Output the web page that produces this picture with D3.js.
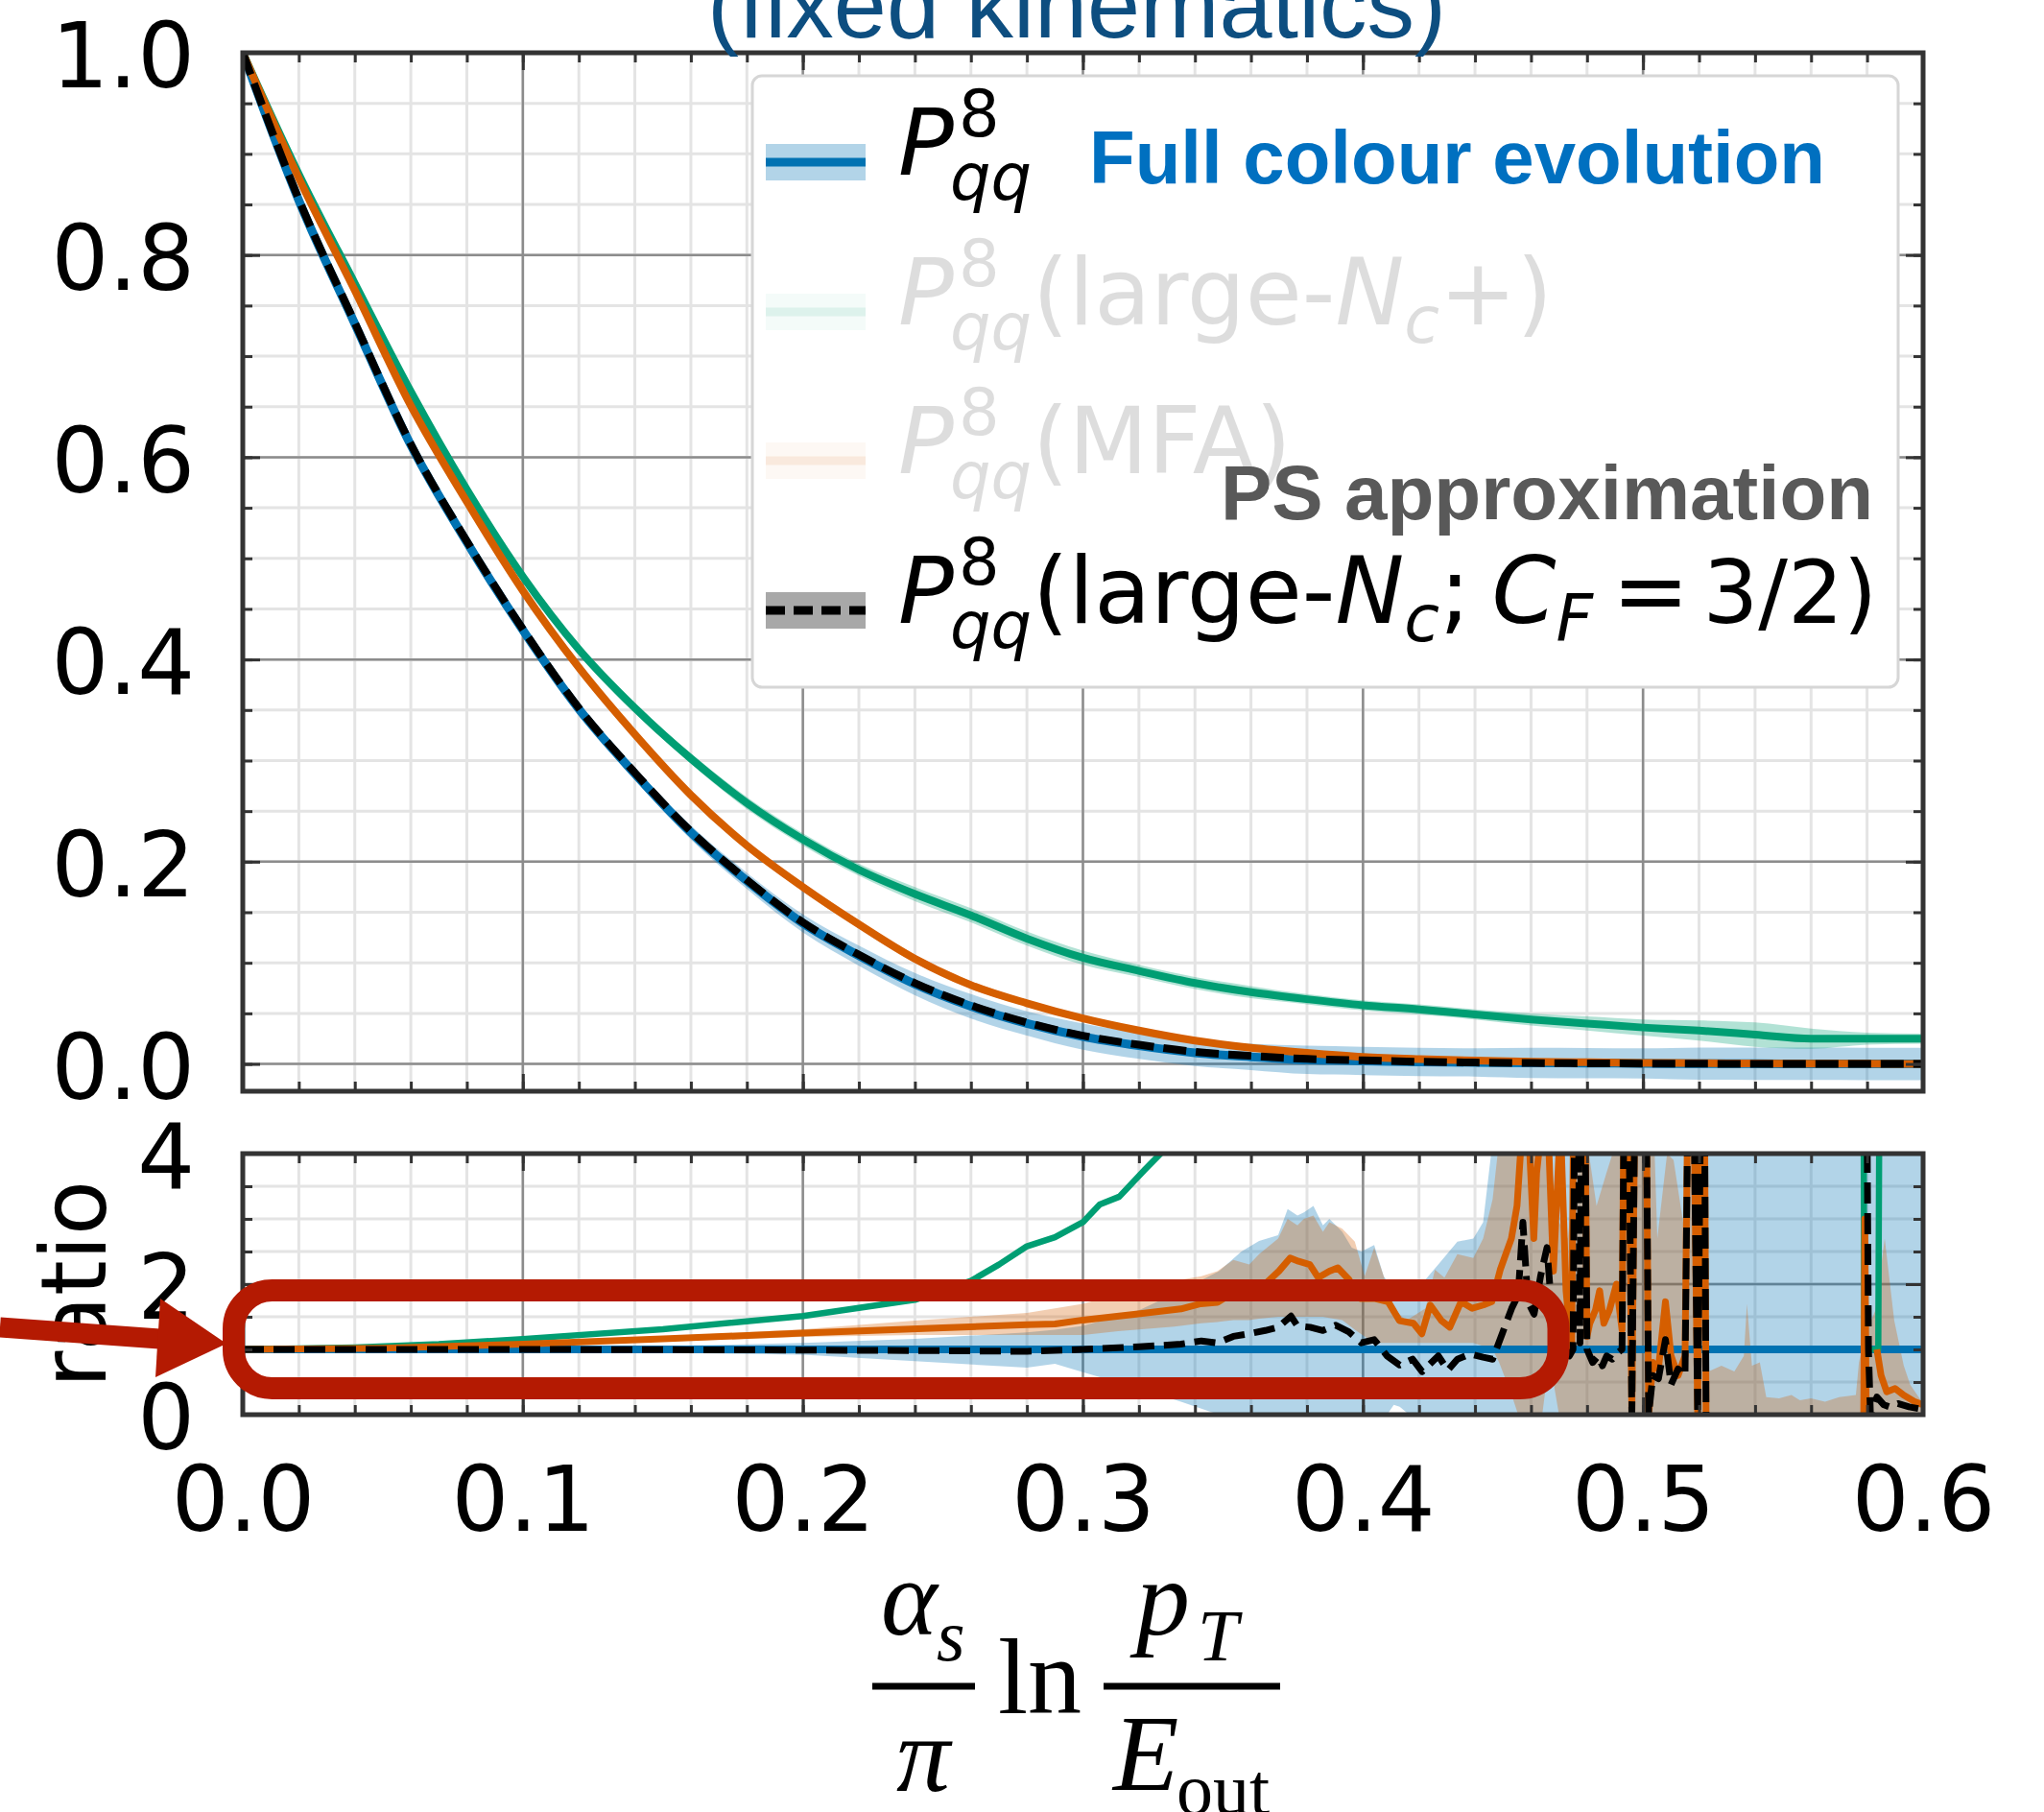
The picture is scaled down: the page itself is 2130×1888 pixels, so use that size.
<!DOCTYPE html>
<html>
<head>
<meta charset="utf-8">
<script src="https://cdn.jsdelivr.net/npm/d3@7"></script>
<style>
  body { margin: 0; background: #fff; }
  svg { display: block; }
</style>
</head>
<body>
<script>
// x grid of the main panel (alpha_s/pi ln pT/Eout)
const xGrid = [0.00, 0.02, 0.04, 0.06, 0.08, 0.10, 0.12, 0.14, 0.16, 0.18, 0.20, 0.22, 0.24, 0.26, 0.28, 0.30,
  0.32, 0.34, 0.36, 0.38, 0.40, 0.42, 0.44, 0.46, 0.48, 0.50, 0.52, 0.54, 0.56, 0.58, 0.60];

// main panel series
const fullColour = [1.000, 0.854, 0.732, 0.612, 0.516, 0.429, 0.351, 0.287, 0.229, 0.181, 0.139, 0.107, 0.079, 0.057, 0.040, 0.027,
  0.018, 0.011, 0.007, 0.004, 0.003, 0.002, 0.0015, 0.001, 0.0008, 0.0005, 0.0003, 0.0002, 0.0001, 0.0000, 0.0000];
const fullColourErr = [0, 0.001, 0.002, 0.003, 0.003, 0.004, 0.005, 0.006, 0.007, 0.008, 0.009, 0.010, 0.011, 0.012, 0.012, 0.013,
  0.013, 0.013, 0.013, 0.014, 0.014, 0.014, 0.014, 0.015, 0.015, 0.015, 0.016, 0.016, 0.016, 0.016, 0.016];
const largeNcPlus = [1.000, 0.880, 0.772, 0.665, 0.568, 0.482, 0.410, 0.352, 0.302, 0.258, 0.222, 0.192, 0.168, 0.147, 0.124, 0.105,
  0.092, 0.080, 0.071, 0.064, 0.058, 0.054, 0.049, 0.044, 0.040, 0.036, 0.033, 0.029, 0.025, 0.025, 0.025];
const largeNcPlusErr = [0, 0.001, 0.002, 0.002, 0.003, 0.003, 0.004, 0.004, 0.005, 0.006, 0.006, 0.006, 0.007, 0.007, 0.007, 0.007,
  0.006, 0.006, 0.006, 0.005, 0.005, 0.005, 0.005, 0.006, 0.007, 0.008, 0.010, 0.012, 0.010, 0.006, 0.005];
const mfa = [1.000, 0.876, 0.765, 0.651, 0.556, 0.468, 0.392, 0.326, 0.266, 0.216, 0.175, 0.138, 0.104, 0.078, 0.060, 0.045,
  0.033, 0.023, 0.016, 0.011, 0.007, 0.0048, 0.0033, 0.0023, 0.0016, 0.0011, 0.0007, 0.0005, 0.0003, 0.0002, 0.0001];
const mfaErr = [0, 0.001, 0.001, 0.002, 0.002, 0.002, 0.003, 0.003, 0.003, 0.004, 0.004, 0.004, 0.004, 0.004, 0.003, 0.003,
  0.003, 0.002, 0.002, 0.002, 0.002, 0.001, 0.001, 0.001, 0.001, 0.001, 0.001, 0.001, 0.001, 0.001, 0.001];
const largeNcCF = [1.000, 0.855, 0.733, 0.613, 0.517, 0.430, 0.352, 0.288, 0.230, 0.182, 0.140, 0.108, 0.080, 0.058, 0.041, 0.028,
  0.019, 0.012, 0.008, 0.005, 0.0035, 0.0022, 0.0014, 0.0009, 0.0006, 0.0004, 0.0002, 0.0001, 0.0001, 0.0000, 0.0000];

// ratio panel: [x, ratio]  (null = no value)
const ratioFull = [[0, 1], [0.6, 1]];
const ratioLargeNcPlus = [[0, 1.0], [0.04, 1.03], [0.07, 1.08], [0.10, 1.16], [0.15, 1.31], [0.20, 1.51], [0.24, 1.76],
  [0.26, 2.05], [0.27, 2.30], [0.28, 2.58], [0.29, 2.72], [0.30, 2.95], [0.306, 3.22], [0.313, 3.34], [0.322, 3.75],
  [0.33, 4.1], [0.34, 4.6], [0.5785, 9], [0.5790, 1.0], [0.5840, 1.0], [0.5848, 9], [0.60, 9]];
const ratioMfa = [[0, 1.0], [0.05, 1.02], [0.10, 1.08], [0.15, 1.16], [0.20, 1.25], [0.25, 1.33], [0.28, 1.38], [0.29, 1.39],
  [0.30, 1.45], [0.319, 1.54], [0.335, 1.62], [0.342, 1.70], [0.348, 1.72], [0.354, 1.88], [0.360, 1.93], [0.365, 2.0],
  [0.370, 2.2], [0.374, 2.4], [0.377, 2.35], [0.381, 2.3], [0.384, 2.1], [0.388, 2.2], [0.391, 2.25], [0.395, 2.07],
  [0.399, 1.78], [0.404, 1.78], [0.409, 1.73], [0.413, 1.44], [0.418, 1.40], [0.421, 1.24], [0.424, 1.68], [0.428, 1.44],
  [0.431, 1.34], [0.435, 1.73], [0.439, 1.63], [0.443, 1.68], [0.446, 1.73], [0.449, 2.22], [0.453, 2.7], [0.455, 3.2],
  [0.457, 4.5], [0.459, 4.5], [0.461, 2.7], [0.462, 3.7], [0.464, 4.5], [0.466, 4.5], [0.468, 2.2], [0.4705, 4.5],
  [0.4725, 1.9], [0.4745, 1.0], [0.4760, 9], [0.4785, 9], [0.4800, 1.2], [0.4810, 1.4], [0.4830, 1.6], [0.4845, 1.9],
  [0.4860, 1.4], [0.4880, 1.6], [0.4905, 2.0], [0.4925, 1.3], [0.4940, 9], [0.4960, 0], [0.4980, 9], [0.5005, 9],
  [0.5020, 0], [0.5035, 0.8], [0.5055, 0.7], [0.5080, 1.73], [0.5100, 0.9], [0.5125, 0.6], [0.5150, 0.9], [0.5170, 9],
  [0.5195, 0], [0.5215, 9], [0.5225, 0], [0.5230, null], [0.5788, 0], [0.5792, 3.0], [0.5797, 0], [0.5800, null],
  [0.5835, 1.0], [0.5850, 0.6], [0.5870, 0.35], [0.5900, 0.4], [0.5930, 0.3], [0.5970, 0.2], [0.6000, 0.15]];
const ratioLargeNcCF = [[0, 1.0], [0.10, 1.0], [0.20, 0.99], [0.25, 0.98], [0.28, 0.97], [0.30, 1.0], [0.32, 1.04],
  [0.335, 1.08], [0.3423, 1.13], [0.348, 1.10], [0.3537, 1.20], [0.3594, 1.24], [0.3651, 1.29], [0.3697, 1.34],
  [0.3743, 1.51], [0.3766, 1.36], [0.3811, 1.34], [0.3857, 1.29], [0.3903, 1.37], [0.3949, 1.27], [0.3994, 1.10],
  [0.404, 1.15], [0.4086, 0.90], [0.4131, 0.76], [0.4177, 0.85], [0.4211, 0.66], [0.4269, 0.90], [0.4303, 0.68],
  [0.4337, 0.85], [0.4383, 0.93], [0.4429, 0.88], [0.4463, 0.85], [0.4497, 1.24], [0.4531, 1.63], [0.4554, 1.83],
  [0.4571, 2.95], [0.4589, 1.73], [0.4611, 1.54], [0.4634, 2.12], [0.4657, 2.56], [0.468, 1.24], [0.4737, 0.9],
  [0.4750, 1.0], [0.4762, 9], [0.4775, 1.1], [0.4785, 9], [0.4800, 1.0], [0.4820, 0.8], [0.4840, 0.9], [0.4855, 0.75],
  [0.4870, 0.9], [0.4890, 0.85], [0.4910, 0.95], [0.4925, 1.0], [0.4940, 9], [0.4960, 0], [0.4980, 9], [0.5005, 9],
  [0.5020, 0], [0.5035, 0.6], [0.5055, 0.55], [0.5080, 1.15], [0.5100, 0.46], [0.5125, 0.7], [0.5150, 0.6], [0.5170, 9],
  [0.5195, 0], [0.5215, 9], [0.5225, 0], [0.5230, null], [0.5800, 4.5], [0.5805, 1.0], [0.5812, 0], [0.5835, 0.27],
  [0.5860, 0.15], [0.5880, 0.12], [0.5910, 0.17], [0.5950, 0.12], [0.6000, 0.08]];

// ratio bands: [x, low, high]
const bandFull = [[0, 1, 1], [0.10, 0.98, 1.02], [0.15, 0.95, 1.05], [0.20, 0.92, 1.10], [0.24, 0.82, 1.16], [0.28, 0.72, 1.26],
  [0.29, 0.78, 1.30], [0.30, 0.65, 1.36], [0.32, 0.40, 1.60], [0.335, 0.20, 1.90], [0.3486, 0, 2.2], [0.3566, 0, 2.5],
  [0.3629, 0, 2.66], [0.3697, 0, 2.75], [0.3731, 0, 3.15], [0.3766, 0, 3.05], [0.3789, 0, 3.1], [0.3823, 0, 3.2],
  [0.3857, 0, 2.9], [0.388, 0, 3.0], [0.3926, 0, 2.8], [0.396, 0, 2.56], [0.3994, 0, 2.5], [0.404, 0, 2.6],
  [0.4074, 0, 2.12], [0.4086, 0, 2.05], [0.411, 0.15, 2.0], [0.4131, 0.12, 1.98], [0.4165, 0, 2.0], [0.4223, 0, 2.07],
  [0.4269, 0, 2.3], [0.4337, 0, 2.65], [0.4394, 0, 2.7], [0.4429, 0, 2.95], [0.4463, 0, 4.2], [0.6, 0, 4.2]];
const bandMfa = [[0, 1, 1], [0.10, 1.06, 1.10], [0.15, 1.12, 1.20], [0.20, 1.19, 1.31], [0.24, 1.22, 1.44], [0.28, 1.22, 1.56],
  [0.30, 1.22, 1.70], [0.3126, 1.28, 1.85], [0.3326, 1.35, 2.05], [0.3423, 1.40, 2.12], [0.348, 1.42, 2.2],
  [0.3537, 1.45, 2.37], [0.3594, 1.45, 2.3], [0.3629, 1.47, 2.46], [0.3697, 1.5, 2.7], [0.3731, 1.5, 3.0],
  [0.3766, 1.5, 2.9], [0.3789, 1.5, 3.0], [0.3823, 1.5, 3.05], [0.3857, 1.5, 2.8], [0.388, 1.48, 2.95],
  [0.3926, 1.45, 2.85], [0.3971, 1.3, 2.65], [0.4006, 1.2, 2.12], [0.404, 1.1, 2.56], [0.4074, 1.1, 2.12],
  [0.4109, 1.1, 1.63], [0.4154, 1.1, 1.44], [0.4223, 1.1, 1.63], [0.4257, 1.1, 2.22], [0.4291, 1.1, 2.1],
  [0.4337, 1.1, 2.46], [0.4394, 1.1, 2.4], [0.4429, 1.05, 2.7], [0.4463, 1.0, 3.3], [0.4486, 0.8, 4.2],
  [0.4531, 0.3, 4.2], [0.4554, 0, 4.2], [0.4640, 0, 4.2], [0.4655, 0.5, 4.2], [0.4680, 0.5, 3.0], [0.4700, 0, 2.95],
  [0.4731, 0, 2.7], [0.4770, 0, 4.2], [0.4800, 0, 4.2], [0.4834, 0, 3.2], [0.4869, 0, 3.7], [0.4891, 0, 4.0],
  [0.4910, 0, 4.2], [0.5040, 0, 4.2], [0.5051, 0, 2.7], [0.5086, 0, 4.0], [0.5109, 0, 3.9], [0.5143, 0, 2.95],
  [0.5160, 0, 4.2], [0.5225, 0, 4.2], [0.5234, 0, 0.66], [0.528, 0, 0.75], [0.5326, 0, 0.66], [0.5360, 0, 0.9],
  [0.5371, 0, 1.7], [0.5389, 0, 0.75], [0.5417, 0, 0.8], [0.544, 0, 0.27], [0.5486, 0, 0.25], [0.5530, 0, 0.3],
  [0.5560, 0, 0.22], [0.5600, 0, 0.25], [0.5650, 0, 0.2], [0.5700, 0, 0.27], [0.5760, 0, 0.3], [0.5771, 0, 0.8],
  [0.5794, 0, 1.24], [0.5830, 0, 1.6], [0.5863, 0, 2.7], [0.5897, 0, 1.44], [0.5931, 0, 0.75], [0.5954, 0, 0.46],
  [0.6, 0, 0.17]];

// ticks
const xTicks = [0.0, 0.1, 0.2, 0.3, 0.4, 0.5, 0.6];
const yTicksMain = [0.0, 0.2, 0.4, 0.6, 0.8, 1.0];
const yTicksRatio = [0, 2, 4];

const C_BLUE = '#0072b2', C_GREEN = '#009e73', C_ORANGE = '#d55e00';
const TICK_FONT = 94;
const LEG_FONT = 96, LEG_SMALL = 67;

const svg = d3.select('body').append('svg')
  .attr('width', 2130)
  .attr('height', 1888)
  .style('font-family', '"DejaVu Sans", sans-serif');

const x = d3.scaleLinear().domain([0, 0.6]).range([253, 2004]);
const yMain = d3.scaleLinear().domain([-0.027, 1.0]).range([1137, 55]);
const yRatio = d3.scaleLinear().domain([0, 4]).range([1474, 1202]);

const defs = svg.append('defs');
defs.append('clipPath').attr('id', 'clipMain')
  .append('rect').attr('x', 253).attr('y', 55).attr('width', 2004 - 253).attr('height', 1137 - 55);
defs.append('clipPath').attr('id', 'clipRatio')
  .append('rect').attr('x', 253).attr('y', 1202).attr('width', 2004 - 253).attr('height', 1474 - 1202);

// ============== GRID ==============
function drawGrid(y, yMinor, yMajor) {
  const g = svg.append('g');
  const xMinor = d3.range(0, 0.6001, 0.02);
  const [y0, y1] = y.range();
  g.selectAll('.vmin').data(xMinor).enter().append('line')
    .attr('x1', d => x(d)).attr('x2', d => x(d)).attr('y1', y0).attr('y2', y1)
    .attr('stroke', '#e4e4e4').attr('stroke-width', 3);
  g.selectAll('.hmin').data(yMinor).enter().append('line')
    .attr('x1', 253).attr('x2', 2004).attr('y1', d => y(d)).attr('y2', d => y(d))
    .attr('stroke', '#e4e4e4').attr('stroke-width', 3);
  g.selectAll('.vmaj').data(xTicks).enter().append('line')
    .attr('x1', d => x(d)).attr('x2', d => x(d)).attr('y1', y0).attr('y2', y1)
    .attr('stroke', '#8c8c8c').attr('stroke-width', 2.5);
  g.selectAll('.hmaj').data(yMajor).enter().append('line')
    .attr('x1', 253).attr('x2', 2004).attr('y1', d => y(d)).attr('y2', d => y(d))
    .attr('stroke', '#8c8c8c').attr('stroke-width', 2.5);
}
drawGrid(yMain, d3.range(0, 1.0001, 0.05), yTicksMain);
drawGrid(yRatio, d3.range(0, 4.001, 0.5), yTicksRatio);

// ============== MAIN PANEL ==============
const gMain = svg.append('g').attr('clip-path', 'url(#clipMain)');

function mainBand(vals, errs, color) {
  const area = d3.area()
    .x((d, i) => x(xGrid[i]))
    .y0((d, i) => yMain(vals[i] - errs[i]))
    .y1((d, i) => yMain(vals[i] + errs[i]))
    .curve(d3.curveMonotoneX);
  gMain.append('path').datum(vals).attr('d', area).attr('fill', color).attr('fill-opacity', 0.3);
}
function mainLine(vals, color, width, dash) {
  const line = d3.line().x((d, i) => x(xGrid[i])).y(d => yMain(d)).curve(d3.curveMonotoneX);
  gMain.append('path').datum(vals).attr('d', line)
    .attr('fill', 'none').attr('stroke', color).attr('stroke-width', width)
    .attr('stroke-dasharray', dash || null);
}
mainBand(fullColour, fullColourErr, C_BLUE);
mainBand(largeNcPlus, largeNcPlusErr, C_GREEN);
mainBand(mfa, mfaErr, C_ORANGE);
mainLine(fullColour, C_BLUE, 9);
mainLine(largeNcPlus, C_GREEN, 8);
mainLine(mfa, C_ORANGE, 8);
mainLine(largeNcCF, '#000', 8, '24,10');

// ============== RATIO PANEL ==============
const gRatio = svg.append('g').attr('clip-path', 'url(#clipRatio)');

function ratioBand(data, color) {
  const area = d3.area().x(d => x(d[0])).y0(d => yRatio(d[1])).y1(d => yRatio(d[2]));
  gRatio.append('path').datum(data).attr('d', area).attr('fill', color).attr('fill-opacity', 0.3);
}
function ratioLine(data, color, width, dash) {
  const line = d3.line().defined(d => d[1] !== null).x(d => x(d[0])).y(d => yRatio(d[1]));
  gRatio.append('path').datum(data).attr('d', line)
    .attr('fill', 'none').attr('stroke', color).attr('stroke-width', width)
    .attr('stroke-linejoin', 'round')
    .attr('stroke-dasharray', dash || null);
}
ratioBand(bandFull, C_BLUE);
ratioBand(bandMfa, C_ORANGE);
ratioLine(ratioFull, C_BLUE, 8);
ratioLine(ratioLargeNcPlus, C_GREEN, 6.5);
ratioLine(ratioMfa, C_ORANGE, 7);
ratioLine(ratioLargeNcCF, '#000', 7, '22,10');

// ============== FRAMES AND TICKS ==============
function styleAxis(g) {
  g.select('.domain').remove();
  g.selectAll('.tick line').attr('stroke', '#333').attr('stroke-width', 3);
  g.attr('font-family', '"DejaVu Sans", sans-serif').attr('font-size', TICK_FONT);
  g.selectAll('.tick text').attr('fill', '#000');
}
function drawFrame(y, yMinor, yMajor, labelsBottom) {
  const [yb, yt] = y.range();
  const xMinor = d3.range(0, 0.6001, 0.02);
  const axes = [
    [d3.axisBottom(x).tickValues(xMinor).tickSize(-10).tickFormat(''), `translate(0,${yb})`],
    [d3.axisTop(x).tickValues(xMinor).tickSize(-10).tickFormat(''), `translate(0,${yt})`],
    [d3.axisLeft(y).tickValues(yMinor).tickSize(-10).tickFormat(''), 'translate(253,0)'],
    [d3.axisRight(y).tickValues(yMinor).tickSize(-10).tickFormat(''), 'translate(2004,0)'],
    [d3.axisTop(x).tickValues(xTicks).tickSize(-18).tickFormat(''), `translate(0,${yt})`],
    [d3.axisRight(y).tickValues(yMajor).tickSize(-18).tickFormat(''), 'translate(2004,0)']
  ];
  axes.forEach(([ax, tr]) => svg.append('g').attr('transform', tr).call(ax).call(styleAxis));

  const fmt = yMajor.length > 3 ? d3.format('.1f') : d3.format('d');
  svg.append('g').attr('transform', 'translate(253,0)')
    .call(d3.axisLeft(y).tickValues(yMajor).tickSize(-18).tickPadding(50).tickFormat(fmt))
    .call(styleAxis)
    .call(g => g.selectAll('.tick text').attr('dy', '0.38em'));

  const bottom = d3.axisBottom(x).tickValues(xTicks).tickSize(-18);
  if (labelsBottom) bottom.tickPadding(54).tickFormat(d3.format('.1f'));
  else bottom.tickFormat('');
  svg.append('g').attr('transform', `translate(0,${yb})`).call(bottom).call(styleAxis);

  svg.append('rect')
    .attr('x', 253).attr('y', yt).attr('width', 2004 - 253).attr('height', yb - yt)
    .attr('fill', 'none').attr('stroke', '#333').attr('stroke-width', 5);
}
drawFrame(yMain, d3.range(0, 1.0001, 0.05), yTicksMain, false);
drawFrame(yRatio, d3.range(0, 4.001, 0.5), yTicksRatio, true);

// y label of ratio panel
svg.append('text')
  .attr('transform', 'translate(110,1338) rotate(-90)')
  .attr('text-anchor', 'middle')
  .attr('font-size', TICK_FONT)
  .text('ratio');

// ============== LEGEND ==============
const leg = svg.append('g');
leg.append('rect')
  .attr('x', 784).attr('y', 79).attr('width', 1194).attr('height', 637).attr('rx', 10)
  .attr('fill', '#fff').attr('stroke', '#d6d6d6').attr('stroke-width', 3);

const rowBase = [182, 338, 493, 649];

function handle(g, cy, color, bandColor, dash) {
  g.append('rect').attr('x', 798).attr('y', cy - 19).attr('width', 104).attr('height', 38)
    .attr('fill', bandColor).attr('fill-opacity', dash ? 1 : 0.3);
  g.append('line').attr('x1', 798).attr('x2', 902).attr('y1', cy).attr('y2', cy)
    .attr('stroke', color).attr('stroke-width', 9).attr('stroke-dasharray', dash || null);
}
function pqq(g, base) {
  g.append('text').attr('x', 936).attr('y', base).attr('font-size', LEG_FONT).attr('font-style', 'italic').text('P');
  g.append('text').attr('x', 999).attr('y', base - 40).attr('font-size', LEG_SMALL).text('8');
  g.append('text').attr('x', 990).attr('y', base + 26).attr('font-size', LEG_SMALL).attr('font-style', 'italic').text('qq');
}

// row 1
const r1 = leg.append('g');
handle(r1, rowBase[0] - 13, C_BLUE, C_BLUE);
pqq(r1, rowBase[0]);

// rows 2 and 3, faded
const r2 = leg.append('g').attr('opacity', 0.13);
handle(r2, rowBase[1] - 13, C_GREEN, C_GREEN);
pqq(r2, rowBase[1]);
const t2 = r2.append('text').attr('x', 1076).attr('y', rowBase[1]).attr('font-size', LEG_FONT);
t2.append('tspan').text('(large-');
t2.append('tspan').attr('font-style', 'italic').text('N');
t2.append('tspan').attr('font-style', 'italic').attr('font-size', LEG_SMALL).attr('dy', 19).text('c');
t2.append('tspan').attr('dy', -19).text('+)');

const r3 = leg.append('g').attr('opacity', 0.13);
handle(r3, rowBase[2] - 13, C_ORANGE, C_ORANGE);
pqq(r3, rowBase[2]);
r3.append('text').attr('x', 1076).attr('y', rowBase[2]).attr('font-size', LEG_FONT).text('(MFA)');

// row 4
const r4 = leg.append('g');
handle(r4, rowBase[3] - 13, '#000', '#a8a8a8', '20,9');
pqq(r4, rowBase[3]);
const t4 = r4.append('text').attr('x', 1076).attr('y', rowBase[3]).attr('font-size', LEG_FONT);
t4.append('tspan').text('(large-');
t4.append('tspan').attr('font-style', 'italic').text('N');
t4.append('tspan').attr('font-style', 'italic').attr('font-size', LEG_SMALL).attr('dy', 19).text('c');
t4.append('tspan').attr('dy', -19).text(';');
t4.append('tspan').attr('font-style', 'italic').attr('dx', 22).text('C');
t4.append('tspan').attr('font-style', 'italic').attr('font-size', LEG_SMALL).attr('dy', 19).text('F');
t4.append('tspan').attr('dy', -19).attr('dx', 20).text('=');
t4.append('tspan').attr('dx', 14).attr('font-size', 91).text('3/2)');

// annotations inside legend
leg.append('text')
  .attr('x', 1135).attr('y', 191)
  .attr('font-family', '"Liberation Sans", Arial, sans-serif')
  .attr('font-weight', 'bold').attr('font-size', 78)
  .attr('fill', '#0070c0')
  .text('Full colour evolution');
leg.append('text')
  .attr('x', 1272).attr('y', 541)
  .attr('font-family', '"Liberation Sans", Arial, sans-serif')
  .attr('font-weight', 'bold').attr('font-size', 80)
  .attr('fill', '#595959')
  .text('PS approximation');

// ============== TITLE (cut at the top) ==============
svg.append('text')
  .attr('x', 1122).attr('y', 39)
  .attr('text-anchor', 'middle')
  .attr('font-family', '"Liberation Sans", Arial, sans-serif')
  .attr('font-size', 99)
  .attr('fill', '#0d4e80')
  .text('(fixed kinematics)');

// ============== X AXIS LABEL ==============
const xl = svg.append('g')
  .attr('font-family', '"Liberation Serif", "Times New Roman", serif')
  .attr('fill', '#000');
xl.append('text').attr('x', 918).attr('y', 1703).attr('font-size', 112).attr('font-style', 'italic').text('\u03b1');
xl.append('text').attr('x', 976).attr('y', 1730).attr('font-size', 76).attr('font-style', 'italic').text('s');
xl.append('line').attr('x1', 909).attr('x2', 1016).attr('y1', 1757).attr('y2', 1757).attr('stroke', '#000').attr('stroke-width', 7);
xl.append('text').attr('x', 934).attr('y', 1866).attr('font-size', 112).attr('font-style', 'italic').text('\u03c0');
xl.append('text').attr('x', 1040).attr('y', 1785).attr('font-size', 112).text('ln');
xl.append('text').attr('x', 1184).attr('y', 1703).attr('font-size', 112).attr('font-style', 'italic').text('p');
xl.append('text').attr('x', 1248).attr('y', 1730).attr('font-size', 76).attr('font-style', 'italic').text('T');
xl.append('line').attr('x1', 1150).attr('x2', 1334).attr('y1', 1757).attr('y2', 1757).attr('stroke', '#000').attr('stroke-width', 7);
xl.append('text').attr('x', 1160).attr('y', 1865).attr('font-size', 112).attr('font-style', 'italic').text('E');
xl.append('text').attr('x', 1226).attr('y', 1890).attr('font-size', 76).text('out');

// ============== RED HIGHLIGHT ==============
const red = '#b41a02';
svg.append('rect')
  .attr('x', 243.5).attr('y', 1344.5).attr('width', 1624 - 243.5).attr('height', 1446.5 - 1344.5)
  .attr('rx', 40).attr('ry', 40)
  .attr('fill', 'none').attr('stroke', red).attr('stroke-width', 23);
svg.append('line')
  .attr('x1', 0).attr('y1', 1383).attr('x2', 180).attr('y2', 1396)
  .attr('stroke', red).attr('stroke-width', 21);
svg.append('polygon')
  .attr('points', '167,1353 162,1435 236,1400')
  .attr('fill', red);
</script>
</body>
